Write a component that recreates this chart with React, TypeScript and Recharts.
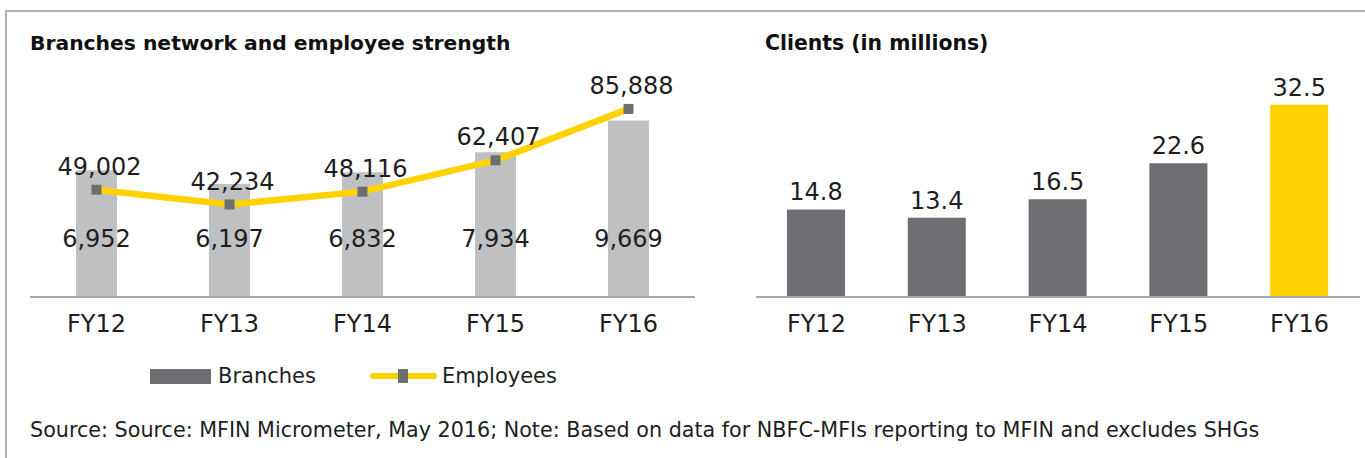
import React from "react";
import { ComposedChart, BarChart, Bar, Line, XAxis, YAxis, LabelList, Cell } from "recharts";

// values
const YEARS = ["FY12", "FY13", "FY14", "FY15", "FY16"];
const BRANCHES = [6952, 6197, 6832, 7934, 9669];
const EMPLOYEES = [49002, 42234, 48116, 62407, 85888];
const CLIENTS = [14.8, 13.4, 16.5, 22.6, 32.5];

const FONT = "'DejaVu Sans', Verdana, sans-serif";
const GREY_DARK = "#6d6e71";
const GREY_LIGHT = "#bfc0c2";
const YELLOW = "#ffd200";
const AXIS = "#a7a9ac";
const INK = "#1e1e1e";

const leftData = YEARS.map((year, i) => ({ year, branches: BRANCHES[i], employees: EMPLOYEES[i] }));
const rightData = YEARS.map((year, i) => ({ year, clients: CLIENTS[i] }));

const fmt = (v: any) => Number(v).toLocaleString("en-US");

const SquareDot = (props: any) => {
  const { cx, cy, index } = props;
  if (cx == null || cy == null) return null;
  return <rect key={`dot-${index}`} x={cx - 5} y={cy - 5} width={10} height={10} fill={GREY_DARK} />;
};

// branch labels sit at a fixed height above the baseline
const BranchLabel = (props: any) => {
  const vb = props.viewBox && props.viewBox.width != null ? props.viewBox : props;
  const { x, y, width, height } = vb;
  const bottom = y + height;
  return (
    <text x={x + width / 2} y={bottom - 50} textAnchor="middle" fontSize={24} fontFamily={FONT} fill={INK}>
      {fmt(props.value)}
    </text>
  );
};

const tickStyle = { fontSize: 24, fontFamily: FONT, fill: INK };

export default function App() {
  return (
    <div style={{ position: "absolute", left: 0, top: 0, width: 1365, height: 458, background: "#fff", overflow: "hidden", fontFamily: FONT }}>
      {/* frame */}
      <div style={{ position: "absolute", left: 5, top: 10, width: 1400, height: 500, borderTop: "2px solid #b1b1b1", borderLeft: "2px solid #b1b1b1" }} />

      <div style={{ position: "absolute", left: 30, top: 31, fontSize: 20.3, fontWeight: "bold", lineHeight: "24px", color: "#111", whiteSpace: "nowrap" }}>
        Branches network and employee strength
      </div>
      <div style={{ position: "absolute", left: 765, top: 31, fontSize: 20.4, fontWeight: "bold", lineHeight: "24px", color: "#111", whiteSpace: "nowrap" }}>
        Clients (in millions)
      </div>

      <div style={{ position: "absolute", left: 0, top: 0 }}>
        <ComposedChart width={700} height={350} data={leftData} margin={{ top: 78, right: 5, bottom: 8, left: 30 }}>
          <XAxis
            dataKey="year"
            height={45}
            axisLine={{ stroke: AXIS, strokeWidth: 2 }}
            tickLine={false}
            tickMargin={12}
            tick={tickStyle}
          />
          <YAxis yAxisId="b" hide domain={[0, 12000]} />
          <YAxis yAxisId="e" hide orientation="right" domain={[0, 100000]} />
          <Bar yAxisId="b" dataKey="branches" fill={GREY_LIGHT} barSize={41} isAnimationActive={false}>
            <LabelList dataKey="branches" content={BranchLabel} />
          </Bar>
          <Line
            yAxisId="e"
            dataKey="employees"
            stroke={YELLOW}
            strokeWidth={6.5}
            dot={SquareDot}
            activeDot={false}
            isAnimationActive={false}
          >
            <LabelList dataKey="employees" position="top" offset={15} dx={3} formatter={fmt} fontSize={24} fontFamily={FONT} fill={INK} />
          </Line>
        </ComposedChart>
      </div>

      <div style={{ position: "absolute", left: 700, top: 0 }}>
        <BarChart width={665} height={350} data={rightData} margin={{ top: 78, right: 5, bottom: 8, left: 56 }}>
          <XAxis
            dataKey="year"
            height={45}
            axisLine={{ stroke: AXIS, strokeWidth: 2 }}
            tickLine={false}
            tickMargin={12}
            tick={tickStyle}
          />
          <YAxis hide domain={[0, 37]} />
          <Bar dataKey="clients" barSize={58} isAnimationActive={false}>
            {rightData.map((d, i) => (
              <Cell key={d.year} fill={i === rightData.length - 1 ? YELLOW : GREY_DARK} />
            ))}
            <LabelList dataKey="clients" position="top" offset={9} fontSize={24} fontFamily={FONT} fill={INK} />
          </Bar>
        </BarChart>
      </div>

      {/* legend */}
      <div style={{ position: "absolute", left: 150, top: 369, width: 61, height: 15, background: GREY_DARK }} />
      <div style={{ position: "absolute", left: 218, top: 363, fontSize: 21, lineHeight: "26px", color: INK }}>Branches</div>
      <div style={{ position: "absolute", left: 370, top: 373, width: 67, height: 6, borderRadius: 3, background: YELLOW }} />
      <div style={{ position: "absolute", left: 398, top: 369, width: 10, height: 14, background: GREY_DARK }} />
      <div style={{ position: "absolute", left: 442, top: 363, fontSize: 21, lineHeight: "26px", color: INK }}>Employees</div>

      <div style={{ position: "absolute", left: 30, top: 417, fontSize: 20.7, lineHeight: "26px", color: INK, whiteSpace: "nowrap" }}>
        Source: Source: MFIN Micrometer, May 2016; Note: Based on data for NBFC-MFIs reporting to MFIN and excludes SHGs
      </div>
    </div>
  );
}
